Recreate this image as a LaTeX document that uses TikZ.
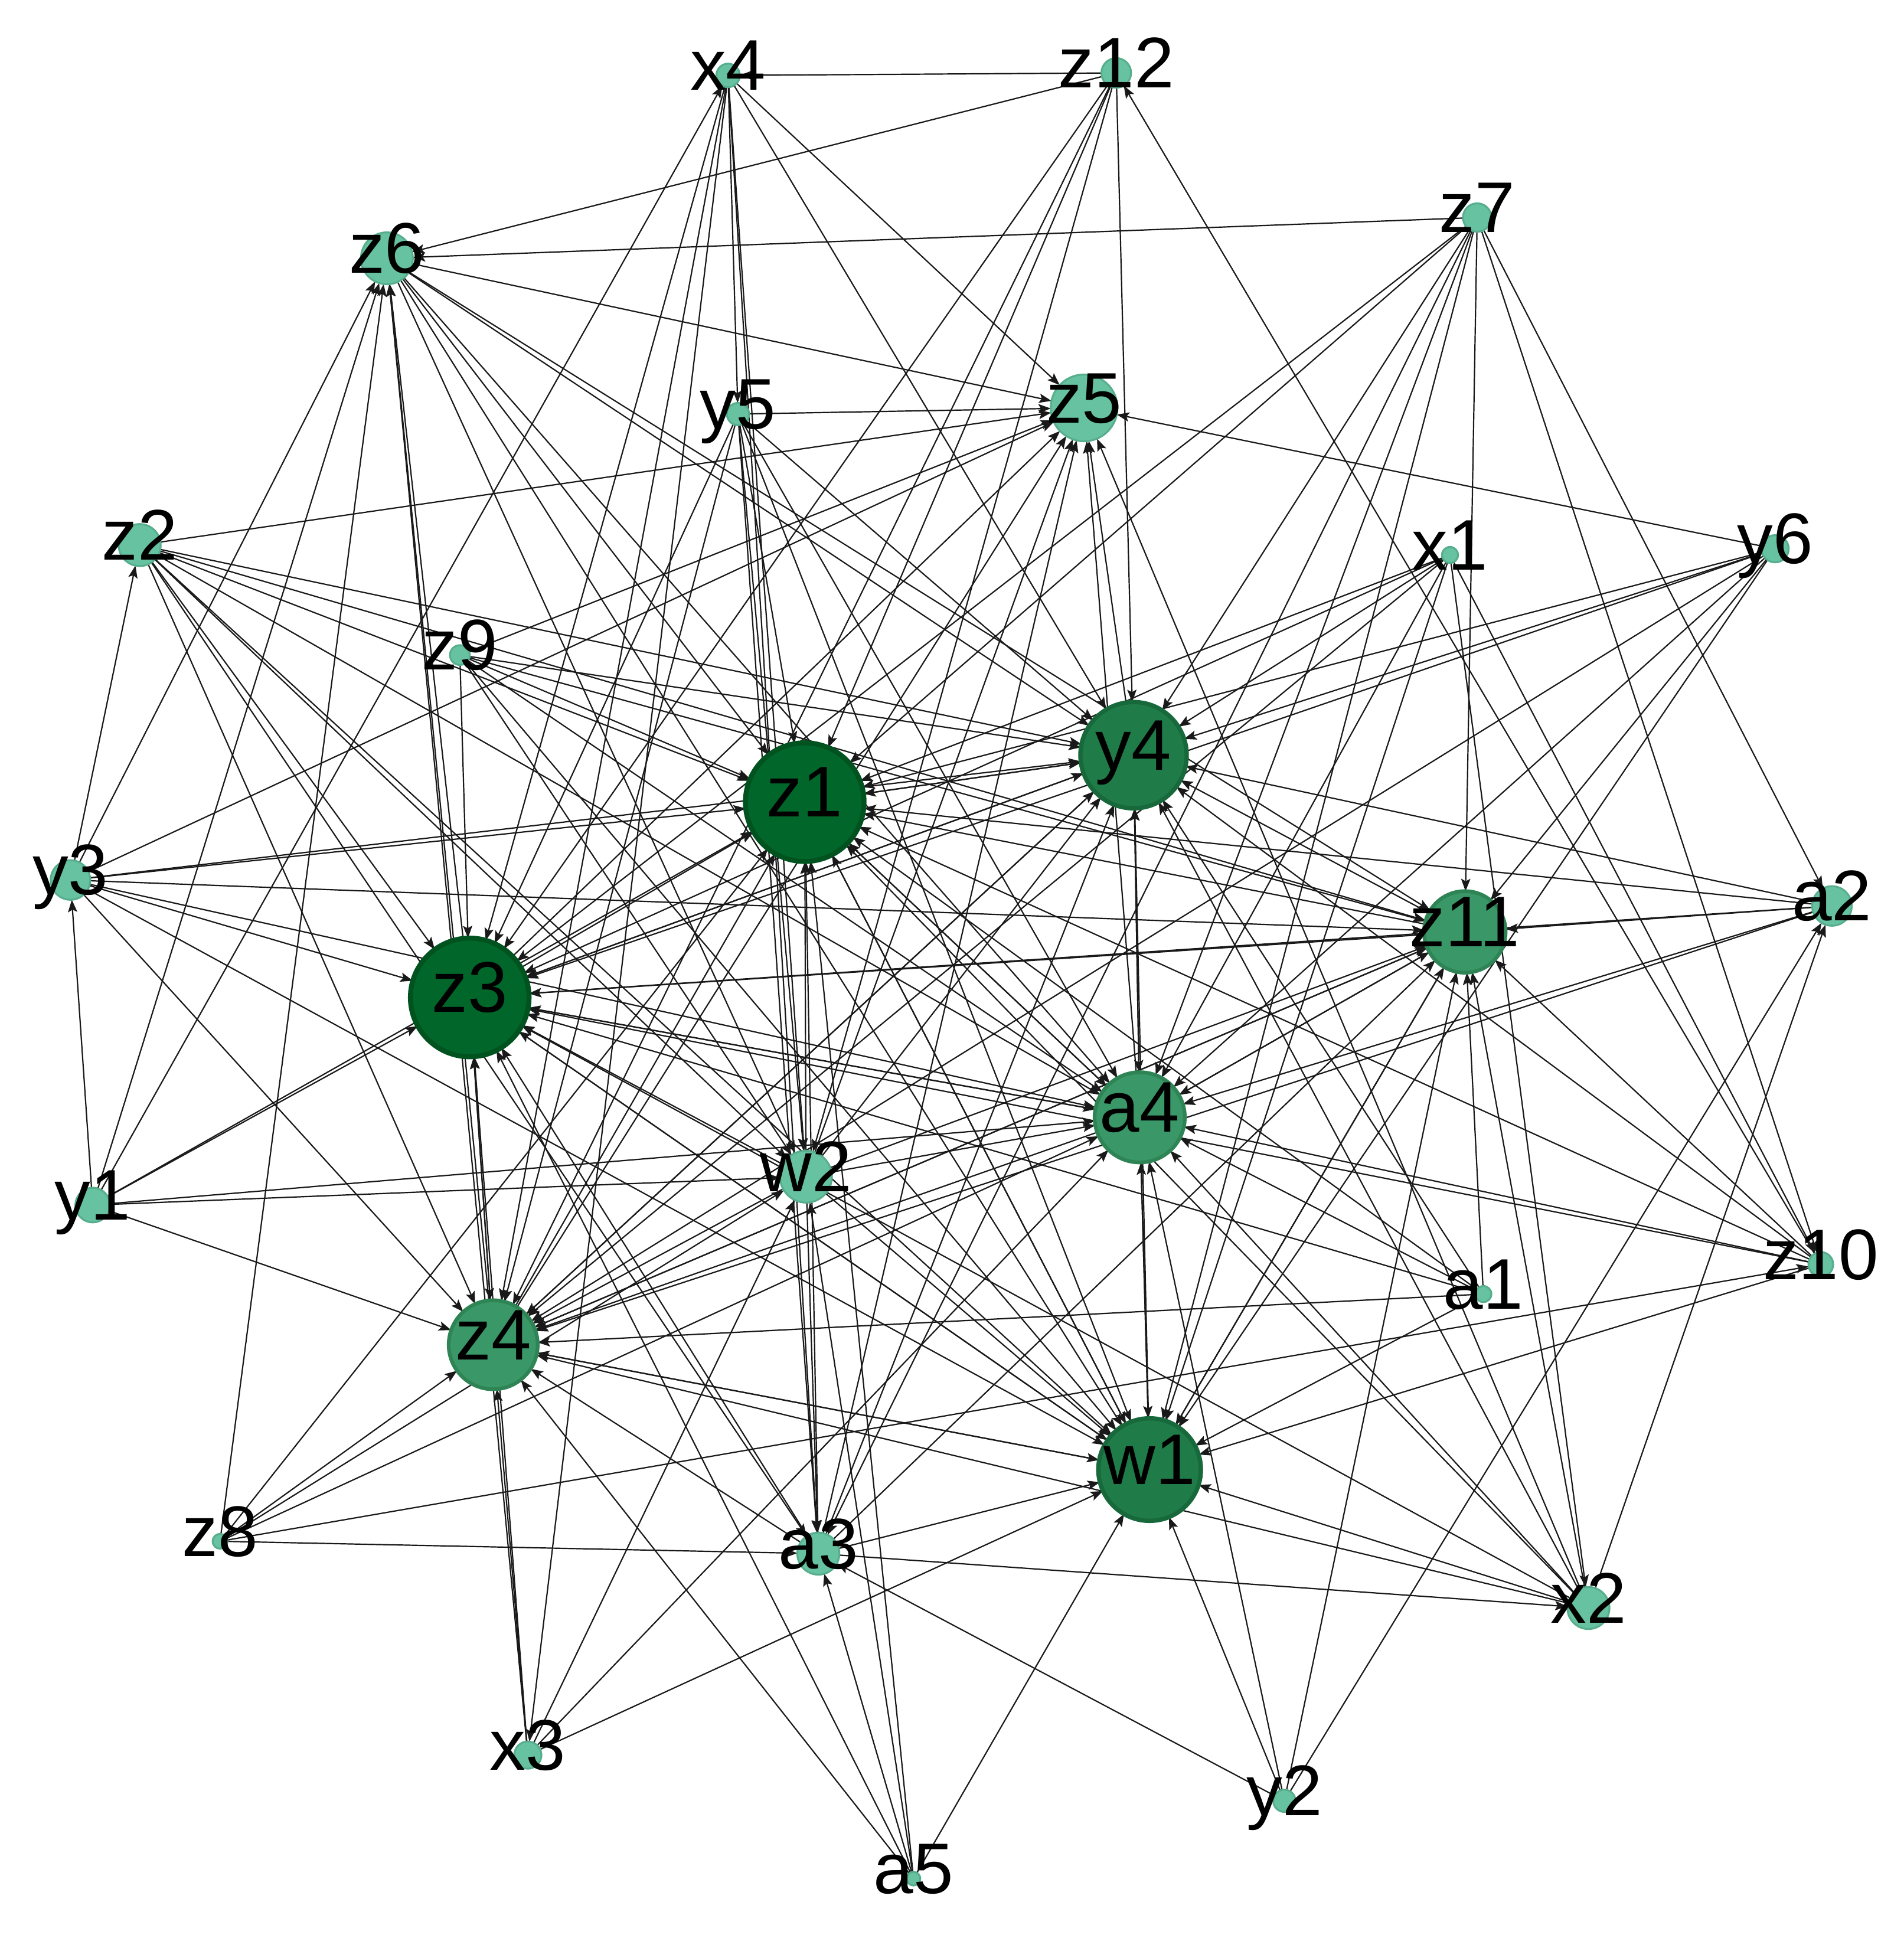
\documentclass[tikz,border=0pt]{standalone}
\usepackage{fontspec}
\setmainfont{Liberation Sans}
\usetikzlibrary{arrows.meta}
\pgfdeclarelayer{bg}
\pgfsetlayers{bg,main}
\definecolor{cdark}{HTML}{00662A}
\definecolor{cdarkb}{HTML}{00521F}
\definecolor{cdeep}{HTML}{1F7C48}
\definecolor{cdeepb}{HTML}{17683A}
\definecolor{cmid}{HTML}{3A9767}
\definecolor{cmidb}{HTML}{2E8454}
\definecolor{clight}{HTML}{66C2A0}
\definecolor{clightb}{HTML}{56AE8C}
\newcommand{\gvert}[5]{\node[vtx,#5,minimum size=#4pt] (#1) at (#2,#3) {};
  \node[lbl] (l#1) at (#2,#3-9) {#1};}
\begin{document}
\begin{tikzpicture}[x=1pt,y=-1pt,
  vtx/.style={circle,inner sep=0pt,outer sep=0pt},
  vdark/.style={fill=cdark,draw=cdarkb,line width=4pt},
  vdeep/.style={fill=cdeep,draw=cdeepb,line width=3.5pt},
  vmid/.style={fill=cmid,draw=cmidb,line width=3pt},
  vlight/.style={fill=clight,draw=clightb,line width=1.5pt},
  lbl/.style={font=\fontsize{58}{60}\selectfont,text=black,inner sep=0pt,text height=42pt,text depth=0pt,anchor=center},
  conn/.style={draw=black!90,line width=1.05pt,-{Stealth[length=10pt,width=7.5pt,inset=2pt]}}]
\useasboundingbox (0,0) rectangle (1540,1568);
\gvert{x4}{589}{61}{19}{vlight}
\gvert{z12}{903}{59}{24}{vlight}
\gvert{z7}{1195}{176}{23}{vlight}
\gvert{z6}{313}{209}{42}{vlight}
\gvert{y5}{597}{335}{18}{vlight}
\gvert{z5}{877}{330}{54}{vlight}
\gvert{z2}{113}{441}{34}{vlight}
\gvert{x1}{1173}{449}{13}{vlight}
\gvert{y6}{1436}{444}{22}{vlight}
\gvert{z9}{372}{530}{16}{vlight}
\gvert{y4}{917}{611}{86}{vdeep}
\gvert{z1}{651}{649}{96}{vdark}
\gvert{y3}{57}{712}{32}{vlight}
\gvert{z11}{1185}{754}{66}{vmid}
\gvert{a2}{1482}{733}{32}{vlight}
\gvert{z3}{380}{807}{96}{vdark}
\gvert{a4}{922}{904}{73}{vmid}
\gvert{w2}{652}{952}{42}{vlight}
\gvert{y1}{75}{975}{28}{vlight}
\gvert{z10}{1473}{1023}{20}{vlight}
\gvert{a1}{1200}{1047}{13}{vlight}
\gvert{z4}{399}{1088}{72}{vmid}
\gvert{w1}{930}{1189}{83}{vdeep}
\gvert{z8}{178}{1247}{12}{vlight}
\gvert{a3}{662}{1257}{34}{vlight}
\gvert{x2}{1285}{1301}{34}{vlight}
\gvert{x3}{427}{1420}{22}{vlight}
\gvert{y2}{1039}{1457}{18}{vlight}
\gvert{a5}{739}{1520}{11}{vlight}
\begin{pgfonlayer}{bg}
\foreach \s/\t in {z12/x4,x4/z5,x4/y4,x4/y5,x4/z3,x4/z4,x4/x3,x4/w2,x4/a3,y1/x4,
 z12/z6,z12/z1,z12/z3,z12/y4,z12/w2,z10/z12,z12/z4,
 z7/z6,z7/y4,z7/z1,z7/z3,z7/z11,z7/a4,z7/a3,z7/z10,z7/a2,z7/w1,
 z6/z5,z6/y4,z6/z1,z6/a4,z6/z11,z6/w1,z6/w2,y3/z6,y1/z6,z8/z6,z4/z6,x3/z6,z3/z6,
 y5/z5,y5/z1,y5/y4,y5/a4,y5/w1,y5/z3,y5/z4,y5/w2,y5/a3,
 z2/z5,y3/z5,z3/z5,z4/z5,w2/z5,a3/z5,a4/z5,y4/z5,x2/z5,y6/z5,
 z2/z3,z2/z4,z2/y4,z2/z1,z2/a4,z2/w1,z2/w2,z2/z11,y3/z2,z2/a3,
 x1/z1,x1/y4,x1/z3,x1/z4,x1/a4,x1/w1,x1/x2,x1/z10,
 y6/y4,y6/z1,y6/z11,y6/a4,y6/z3,y6/w1,y6/z4,
 z9/z3,z9/y4,z9/z1,z9/a4,z9/z11,z9/w1,z9/w2,z9/z5,
 y4/z1,y4/a4,a4/y4,y4/z3,y4/z4,z1/y4,z3/y4,w2/y4,z4/y4,w1/y4,a3/y4,z11/y4,a2/y4,x2/y4,a1/y4,z10/y4,y3/y4,
 y3/z1,z3/z1,w2/z1,a4/z1,z11/z1,a2/z1,z10/z1,x2/z1,w1/z1,z4/z1,a3/z1,a1/z1,y1/z1,z8/z1,w2/a3,
 y3/z3,y1/z3,z11/z3,a4/z3,w2/z3,w1/z3,x3/z3,z4/z3,z3/z4,a3/z3,a2/z3,x2/z3,z10/z3,a1/z3,a5/z3,
 y3/z4,y1/z4,x3/z4,w2/z4,a4/z4,w1/z4,z11/z4,a3/z4,a2/z4,x2/z4,z8/z4,a5/z4,a1/z4,
 y3/a4,z3/a4,w2/a4,z11/a4,a2/a4,z10/a4,a1/a4,x2/a4,w1/a4,a4/w1,z1/a4,z8/a4,x3/a4,y2/a4,y1/a4,
 y3/w1,z3/w1,w2/w1,z4/w1,a3/w1,x3/w1,a5/w1,y2/w1,x2/w1,z10/w1,a1/w1,z11/w1,w1/z11,z1/w1,
 y3/z11,a2/z11,x2/z11,y2/z11,a1/z11,w2/z11,a3/z11,z4/z11,a4/z11,z10/z11,
 y2/a2,x2/a2,z8/a3,a3/x2,y1/y3,y1/w2,a5/w2,a5/a3,a5/z1,y2/a3,z8/w2,z8/z10,x3/w2}
  \draw[conn] (\s) -- (\t);
\end{pgfonlayer}
\end{tikzpicture}
\end{document}
